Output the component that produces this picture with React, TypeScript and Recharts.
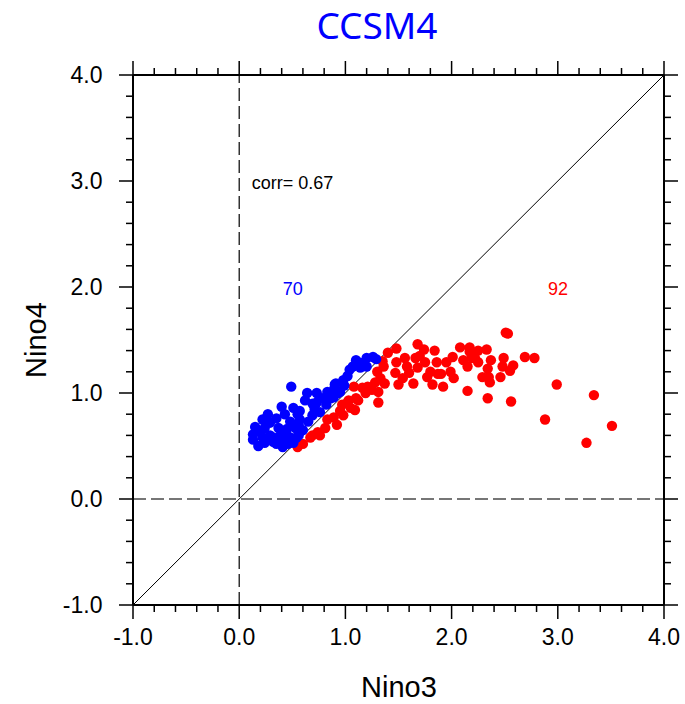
import React from 'react';
import { ScatterChart, Scatter, XAxis, YAxis, ReferenceLine } from 'recharts';

const xTicks = [-1, -0.8, -0.6, -0.4, -0.2, 0, 0.2, 0.4, 0.6, 0.8, 1, 1.2, 1.4, 1.6, 1.8, 2, 2.2, 2.4, 2.6, 2.8, 3, 3.2, 3.4, 3.6, 3.8, 4];
const yTicks = [-1, -0.8, -0.6, -0.4, -0.2, 0, 0.2, 0.4, 0.6, 0.8, 1, 1.2, 1.4, 1.6, 1.8, 2, 2.2, 2.4, 2.6, 2.8, 3, 3.2, 3.4, 3.6, 3.8, 4];

const blueNino3 = [0.13, 0.15, 0.13, 0.20, 0.24, 0.27, 0.29, 0.29, 0.32, 0.32, 0.37, 0.40, 0.40, 0.41, 0.45, 0.48, 0.48, 0.49, 0.51, 0.51, 0.56, 0.57, 0.57, 0.54, 0.64, 0.65, 0.69, 0.73, 0.73, 0.76, 0.83, 0.90, 0.93, 0.98, 1.02, 0.91, 0.89, 0.95, 0.89, 1.04, 1.07, 1.10, 1.14, 1.20, 1.26, 1.29, 1.20, 1.12, 0.60, 0.71, 0.22, 0.18, 0.35, 0.43, 0.53, 0.62, 0.78, 0.82, 0.69, 0.44, 0.24, 0.39, 0.55, 0.86, 0.99, 0.22, 0.35, 0.46, 0.56, 1.15];
const blueNino4 = [0.56, 0.68, 0.61, 0.63, 0.53, 0.80, 0.72, 0.60, 0.58, 0.54, 0.67, 0.87, 0.56, 0.49, 0.66, 0.58, 0.73, 1.06, 0.86, 0.53, 0.60, 0.83, 0.75, 0.58, 1.00, 0.73, 0.79, 1.00, 0.91, 0.82, 1.01, 1.08, 1.00, 1.12, 1.16, 1.09, 1.03, 1.01, 0.96, 1.22, 1.25, 1.31, 1.24, 1.25, 1.34, 1.32, 1.33, 1.29, 0.65, 0.85, 0.75, 0.50, 0.76, 0.80, 0.67, 0.93, 0.95, 0.89, 0.90, 0.63, 0.67, 0.60, 0.80, 0.95, 1.07, 0.58, 0.52, 0.52, 0.70, 1.28];

const redNino3 = [3.51, 3.34, 3.27, 2.99, 2.88, 2.78, 2.69, 2.51, 2.56, 2.34, 2.15, 1.92, 2.02, 1.90, 2.46, 2.36, 2.35, 2.29, 2.55, 2.34, 2.25, 2.15, 2.11, 1.95, 1.86, 2.48, 2.58, 2.49, 2.33, 2.25, 2.17, 2.17, 2.08, 1.84, 1.68, 1.48, 1.40, 1.56, 1.66, 1.75, 1.36, 1.47, 1.58, 1.68, 1.80, 1.87, 1.54, 1.64, 1.77, 1.82, 2.22, 1.30, 1.28, 1.37, 1.21, 1.31, 1.19, 1.08, 1.12, 1.31, 1.03, 0.97, 1.05, 1.09, 0.89, 0.98, 1.35, 0.55, 0.69, 0.76, 0.83, 0.95, 1.10, 1.25, 1.33, 1.16, 1.02, 0.74, 0.67, 0.60, 0.92, 0.81, 2.01, 1.70, 1.48, 1.60, 1.50, 1.99, 2.19, 2.37, 2.53, 1.74];
const redNino4 = [0.69, 0.98, 0.53, 1.08, 0.75, 1.33, 1.34, 1.57, 0.92, 0.95, 1.02, 1.06, 1.14, 1.18, 1.15, 1.10, 1.15, 1.15, 1.21, 1.23, 1.29, 1.25, 1.31, 1.29, 1.29, 1.25, 1.26, 1.33, 1.41, 1.40, 1.39, 1.43, 1.43, 1.40, 1.46, 1.42, 1.38, 1.33, 1.33, 1.29, 1.25, 1.19, 1.25, 1.24, 1.20, 1.18, 1.14, 1.09, 1.15, 1.08, 1.33, 1.20, 1.10, 1.09, 1.06, 1.01, 1.00, 1.06, 0.93, 0.91, 0.93, 0.89, 0.86, 0.84, 0.77, 0.79, 1.30, 0.49, 0.60, 0.60, 0.75, 0.83, 0.95, 1.03, 1.14, 1.05, 0.91, 0.63, 0.58, 0.52, 0.70, 0.67, 1.34, 1.35, 1.29, 1.19, 1.08, 1.20, 1.33, 1.31, 1.56, 1.41];

const blueData = blueNino3.map((x, i) => ({ x, y: blueNino4[i] }));
const redData = redNino3.map((x, i) => ({ x, y: redNino4[i] }));

const FONT = '"Liberation Sans", Arial, Helvetica, sans-serif';
const isMajor = (v: number) => Math.abs(v - Math.round(v)) < 1e-6;

const BottomTick = (props: any) => {
  const { x, y, payload } = props;
  const v = payload.value;
  const major = isMajor(v);
  return (
    <g>
      <line x1={x} y1={y} x2={x} y2={y + (major ? 14 : 7)} stroke="#000" strokeWidth={1.5} />
      {major && (
        <text x={x} y={y + 40} textAnchor="middle" fontSize={23} fontFamily={FONT} fill="#000">
          {v.toFixed(1)}
        </text>
      )}
    </g>
  );
};

const TopTick = (props: any) => {
  const { x, y, payload } = props;
  const major = isMajor(payload.value);
  return <line x1={x} y1={y} x2={x} y2={y - (major ? 14 : 7)} stroke="#000" strokeWidth={1.5} />;
};

const LeftTick = (props: any) => {
  const { x, y, payload } = props;
  const v = payload.value;
  const major = isMajor(v);
  return (
    <g>
      <line x1={x} y1={y} x2={x - (major ? 14 : 7)} y2={y} stroke="#000" strokeWidth={1.5} />
      {major && (
        <text x={x - 30.5} y={y + 8.3} textAnchor="end" fontSize={23} fontFamily={FONT} fill="#000">
          {v.toFixed(1)}
        </text>
      )}
    </g>
  );
};

const RightTick = (props: any) => {
  const { x, y, payload } = props;
  const major = isMajor(payload.value);
  return <line x1={x} y1={y} x2={x + (major ? 14 : 7)} y2={y} stroke="#000" strokeWidth={1.5} />;
};

const Dot = (color: string) => (p: any) => <circle cx={p.cx} cy={p.cy} r={5.2} fill={color} stroke="none" />;

export default function App() {
  return (
    <div style={{ position: 'absolute', left: 0, top: 0, width: 685, height: 704, background: '#fff' }}>
      <ScatterChart width={685} height={704} margin={{ top: 74, right: 20, bottom: 0, left: 0 }}>
        <XAxis
          xAxisId={0}
          dataKey="x"
          type="number"
          domain={[-1, 4]}
          ticks={xTicks}
          interval={0}
          allowDataOverflow
          height={99}
          tickSize={0}
          tickMargin={0}
          tickLine={false}
          tick={BottomTick}
          axisLine={{ stroke: '#000', strokeWidth: 2 }}
        />
        <XAxis
          xAxisId="top"
          orientation="top"
          dataKey="x"
          type="number"
          domain={[-1, 4]}
          ticks={xTicks}
          interval={0}
          allowDataOverflow
          height={1}
          tickSize={0}
          tickMargin={0}
          tickLine={false}
          tick={TopTick}
          axisLine={{ stroke: '#000', strokeWidth: 2 }}
        />
        <YAxis
          yAxisId={0}
          dataKey="y"
          type="number"
          domain={[-1, 4]}
          ticks={yTicks}
          interval={0}
          allowDataOverflow
          width={133}
          tickSize={0}
          tickMargin={0}
          tickLine={false}
          tick={LeftTick}
          axisLine={{ stroke: '#000', strokeWidth: 2 }}
        />
        <YAxis
          yAxisId="right"
          orientation="right"
          dataKey="y"
          type="number"
          domain={[-1, 4]}
          ticks={yTicks}
          interval={0}
          allowDataOverflow
          width={1}
          tickSize={0}
          tickMargin={0}
          tickLine={false}
          tick={RightTick}
          axisLine={{ stroke: '#000', strokeWidth: 2 }}
        />
        <ReferenceLine x={0} stroke="#000" strokeWidth={1.2} strokeDasharray="13 5" />
        <ReferenceLine y={0} stroke="#4a4a4a" strokeWidth={1.4} strokeDasharray="13 5" />
        <ReferenceLine y={4} stroke="#000" strokeWidth={2} />
        <ReferenceLine x={4} stroke="#000" strokeWidth={2} />
        <Scatter data={redData} fill="#ff0000" shape={Dot('#ff0000')} isAnimationActive={false} />
        <Scatter data={blueData} fill="#0000ff" shape={Dot('#0000ff')} isAnimationActive={false} />
        <Scatter xAxisId="top" yAxisId="right" data={[]} isAnimationActive={false} />
        <ReferenceLine segment={[{ x: -1, y: -1 }, { x: 4, y: 4 }]} stroke="#000" strokeWidth={1} />
        <text x={377} y={39} textAnchor="middle" fontSize={37} fontFamily='"Noto Sans", sans-serif' fill="#0000ff">
          CCSM4
        </text>
        <text x={251.7} y={189} fontSize={18} fontFamily={FONT} fill="#000">
          corr= 0.67
        </text>
        <text x={282.7} y={295} fontSize={18} fontFamily={FONT} fill="#0000ff">
          70
        </text>
        <text x={548} y={295} fontSize={18} fontFamily={FONT} fill="#ff0000">
          92
        </text>
        <text x={399} y={697} textAnchor="middle" fontSize={29} fontFamily={FONT} fill="#000">
          Nino3
        </text>
        <text x={46} y={340} textAnchor="middle" fontSize={29} fontFamily={FONT} fill="#000" transform="rotate(-90 46 340)">
          Nino4
        </text>
      </ScatterChart>
    </div>
  );
}
